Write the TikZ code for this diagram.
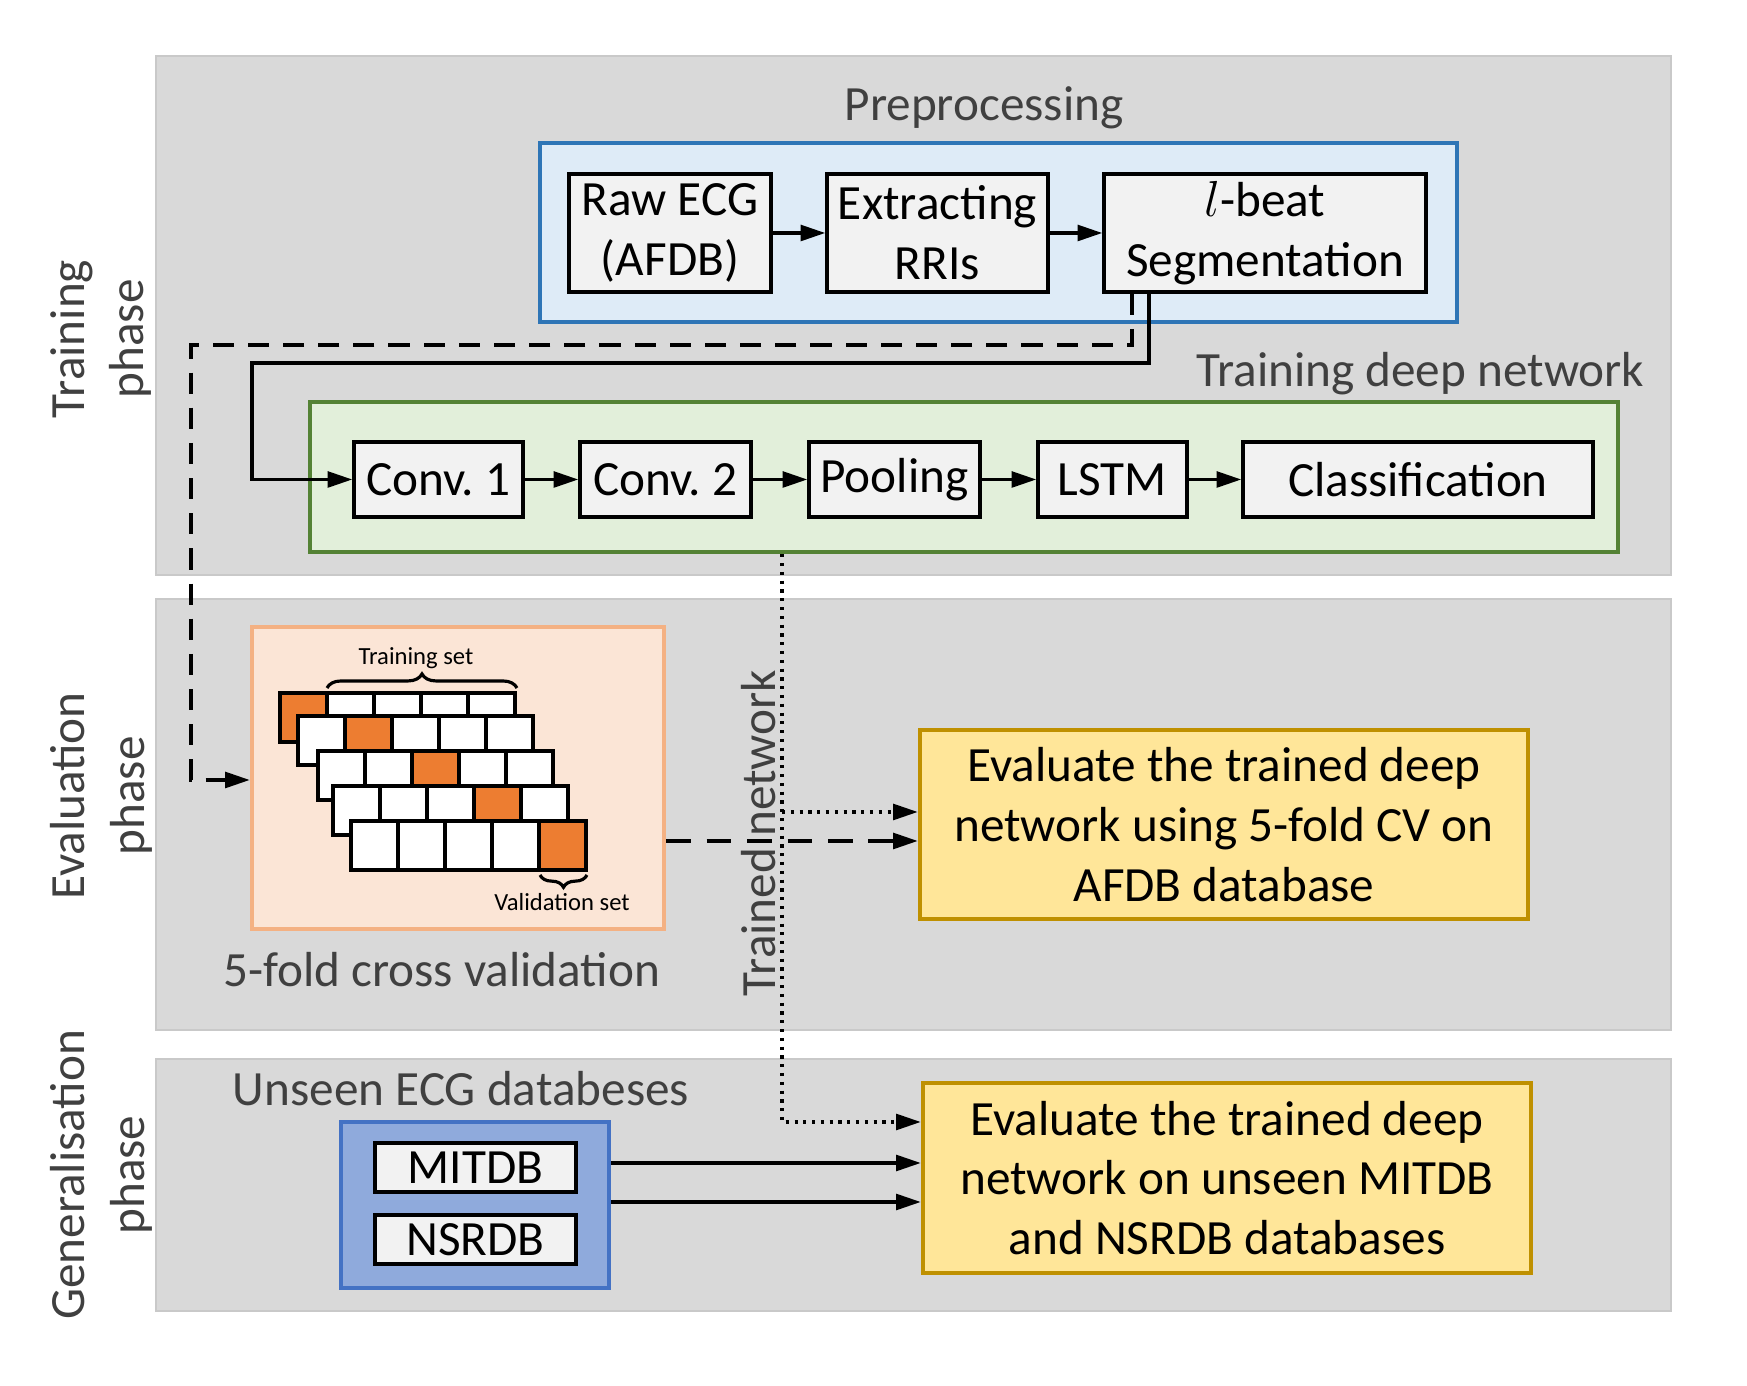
\documentclass[tikz,border=0pt]{standalone}
\usepackage{fontspec}
\setmainfont{Carlito}
\usetikzlibrary{arrows.meta,decorations.pathreplacing}
\definecolor{panelgray}{HTML}{D9D9D9}
\definecolor{panelline}{HTML}{C9C9C9}
\definecolor{boxgray}{HTML}{F2F2F2}
\definecolor{txtgray}{HTML}{404040}
\definecolor{prepfill}{HTML}{DEEBF7}
\definecolor{prepline}{HTML}{2E75B6}
\definecolor{netfill}{HTML}{E2EFDA}
\definecolor{netline}{HTML}{548235}
\definecolor{cvfill}{HTML}{FBE5D6}
\definecolor{cvline}{HTML}{F4B183}
\definecolor{foldorange}{HTML}{ED7D31}
\definecolor{evalfill}{HTML}{FFE699}
\definecolor{evalline}{HTML}{BF9000}
\definecolor{dbfill}{HTML}{8FAADC}
\definecolor{dbline}{HTML}{4472C4}
\frenchspacing
\newcommand{\bigtxt}{\fontsize{14pt}{17pt}\selectfont}
\newcommand{\smalltxt}{\fontsize{7pt}{8pt}\selectfont}
\tikzstyle{panel}=[draw=panelline, fill=panelgray, line width=0.6pt]
\tikzstyle{group}=[line width=1.3pt, align=center, font=\bigtxt]
\tikzstyle{block}=[draw, fill=boxgray, line width=1pt, inner sep=0pt, align=center, font=\bigtxt]
\tikzstyle{title}=[text=txtgray, font=\bigtxt, inner sep=0pt, anchor=base]
\tikzstyle{phase}=[text=txtgray, font=\bigtxt, align=center, rotate=90]
\tikzstyle{arr}=[-{Triangle[length=7pt,width=4.5pt]}, line width=0.9pt]
\tikzstyle{cell}=[draw, line width=1.1pt]
\tikzset{sz/.style 2 args={minimum width=#1*0.01cm, minimum height=#2*0.01cm}}
\newcommand{\blk}{\node[block]}

\begin{document}
\begin{tikzpicture}[x=0.01cm, y=-0.01cm]
\useasboundingbox (0,0) rectangle (1747,1386);
\node[panel, sz={1515}{519}] (trainp) at (913.5,315.5) {};
\node[panel, sz={1515}{431}] (evalp) at (913.5,814.5) {};
\node[panel, sz={1515}{252}] (genp) at (913.5,1185) {};
\node[phase] (trainl) at (101,339) {Training\\phase};
\node[phase] (evall) at (101,796) {Evaluation\\phase};
\node[phase] (genl) at (101,1175) {Generalisation\\phase};

\node[title] (prept) at (984,121) {Preprocessing};
\node[group, draw=prepline, fill=prepfill, sz={917}{179}] (prep) at (998.5,232.5) {};
\blk[sz={202}{118}] (raw) at (670,233) {Raw ECG\\(AFDB)};
\blk[sz={221}{118}] (rri) at (937.5,233) {Extracting\\RRIs};
\blk[sz={322}{118}] (seg) at (1265,233) {$l$-beat\\Segmentation};

\node[title, anchor=base east] (nett) at (1645,387) {Training deep network};
\node[group, draw=netline, fill=netfill, sz={1308}{150}] (net) at (964,477) {};
\blk[sz={169}{75}] (conv1) at (438.5,479.5) {Conv. 1};
\blk[sz={171}{75}] (conv2) at (665.5,479.5) {Conv. 2};
\blk[sz={171}{75}] (pool) at (894.5,479.5) {Pooling};
\blk[sz={149}{75}] (lstm) at (1112.5,479.5) {LSTM};
\blk[sz={350}{75}] (cls) at (1418,479.5) {Classification};

\node[group, draw=cvline, fill=cvfill, sz={412}{302}] (cv) at (458,778) {};
\foreach \r/\lx/\ty in {1/280/693, 2/298/716, 3/318/751, 4/333/786, 5/351/821} {
  \foreach \c in {1,...,5}
    \draw[cell, fill=white] (\lx+47*\c-47,\ty) rectangle +(47,49);
  \draw[cell, fill=foldorange] (\lx+47*\r-47,\ty) rectangle +(47,49);
}
\draw[line width=0.9pt, decorate, decoration={brace, amplitude=4pt}] (327,688) -- (517,688);
\node[title, text=black, font=\smalltxt] (trs) at (416,665) {Training set};
\draw[line width=0.9pt, decorate, decoration={brace, amplitude=3.5pt}] (587,875) -- (540,875);
\node[title, text=black, font=\smalltxt] (vals) at (562,911) {Validation set};
\node[title] (cvt) at (442,987) {5-fold cross validation};

\node[group, draw=evalline, fill=evalfill, sz={608}{189}] (eval1) at (1224,824.5) {Evaluate the trained deep\\network using 5-fold CV on\\AFDB database};
\node[group, draw=evalline, fill=evalfill, sz={608}{190}] (eval2) at (1227,1178) {Evaluate the trained deep\\network on unseen MITDB\\and NSRDB databases};

\node[title] (dbt) at (461,1106) {Unseen ECG databeses};
\node[group, draw=dbline, fill=dbfill, sz={268}{166}] (dbs) at (475,1205) {};
\blk[sz={201}{49}] (mit) at (475.5,1167.5) {MITDB};
\blk[sz={201}{49}] (nsr) at (475.5,1239.5) {NSRDB};

\node[title, rotate=90] (tnt) at (775,833) {Trained network};

\coordinate (dtop) at (1132,345);
\coordinate (dleft) at (191,345);
\coordinate (stop) at (1149,363);
\coordinate (sleft) at (252,363);
\coordinate (cvin) at (191,780);
\coordinate (cvout) at (664,841);
\coordinate (tn1) at (782,812);
\coordinate (tn2) at (782,1122);
\coordinate (db1) at (609,1163);
\coordinate (db2) at (609,1202);
\path
(raw) edge[arr] (rri)
(rri) edge[arr] (seg)
(conv1) edge[arr] (conv2)
(conv2) edge[arr] (pool)
(pool) edge[arr] (lstm)
(lstm) edge[arr] (cls)
;
\draw[arr] (seg.south -| stop) -- (stop) -- (sleft) |- (conv1.west);
\draw[arr, dash pattern=on 6pt off 4pt] (seg.south -| dtop) -- (dtop) -- (dleft) |- (cv.west |- cvin);
\draw[arr, dash pattern=on 7pt off 4.5pt] (cv.east |- cvout) -- (eval1.west |- cvout);
\draw[arr, dash pattern=on 0.9pt off 1.6pt] (net.south -| tn1) |- (eval2.west |- tn2);
\draw[arr, dash pattern=on 0.9pt off 1.6pt] (tn1) -- (eval1.west |- tn1);
\draw[arr] (dbs.east |- db1) -- (eval2.west |- db1);
\draw[arr] (dbs.east |- db2) -- (eval2.west |- db2);
\end{tikzpicture}
\end{document}
